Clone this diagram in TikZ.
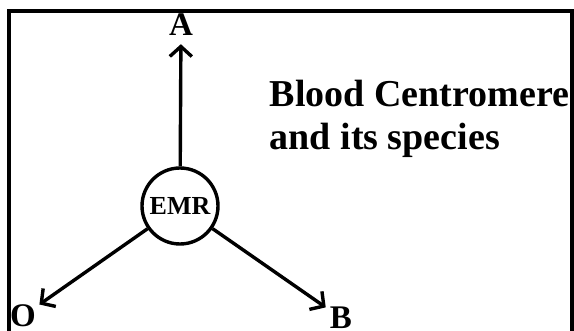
\documentclass[tikz,border=0pt]{standalone}
\usepackage{fontspec}
\setmainfont{Liberation Serif}
\usetikzlibrary{arrows.meta}
\begin{document}
\begin{tikzpicture}[x=1pt,y=-1pt,line width=3.4pt,
  ray/.style={-{Straight Barb[length=10pt,width=22pt]}},
  lbl/.style={circle,inner sep=1pt,font=\fontsize{33}{33}\selectfont\bfseries},
  hub/.style={circle,draw,minimum size=76pt,inner sep=0pt,font=\fontsize{26}{26}\selectfont\bfseries}]
  \useasboundingbox (0,0) rectangle (574,331);
  \draw (9,331) -- (9,11) -- (572,11) -- (572,331);
  \node[hub] (emr) at (180,206) {EMR};
  \node[lbl] (a) at (181,25) {A};
  \node[lbl] (o) at (23,316) {O};
  \node[lbl] (b) at (341,318) {B};
  \draw[ray] (emr) -- (a);
  \draw[ray] (emr) -- (o);
  \draw[ray] (emr) -- (b);
  \node[anchor=base west,align=left,inner sep=0pt,
    font=\fontsize{38}{43}\selectfont\bfseries] (title) at (268,150)
    {Blood Centromere\\and its species};
\end{tikzpicture}
\end{document}
